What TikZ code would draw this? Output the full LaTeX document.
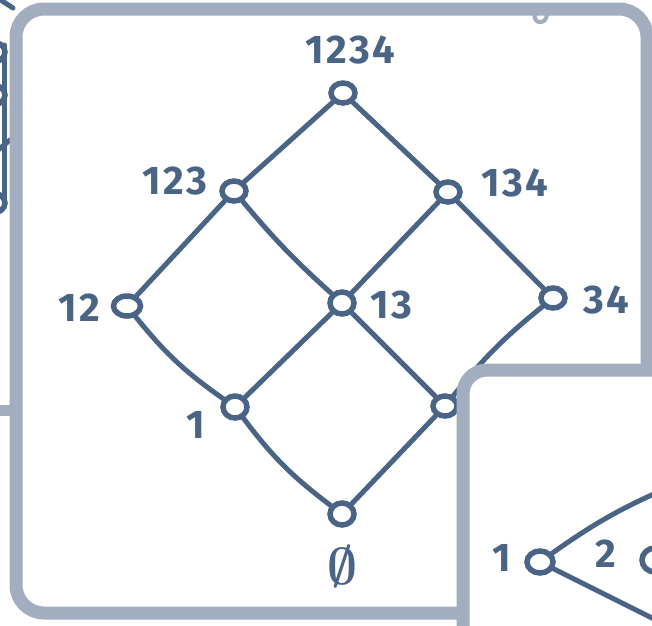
\documentclass[tikz,border=0pt]{standalone}
\usepackage{fix-cm}
\usepackage{amsmath}
\usepackage{fontspec}
\setmainfont{Fira Sans}[LetterSpace=6]
\usetikzlibrary{positioning,shapes.geometric}
\definecolor{ink}{RGB}{74,100,134}
\definecolor{panelgray}{RGB}{162,173,192}
\tikzset{vtx/.style={draw=ink,ellipse,line width=5.5pt,minimum width=24pt,minimum height=20pt,inner sep=0pt,fill=white},
  edge/.style={draw=ink,line width=5pt,line cap=round},
  lbl/.style={text=ink,font=\fontsize{40}{42}\selectfont\bfseries,inner sep=0pt},
  panel/.style={draw=panelgray,line width=13pt,fill=white}}

\begin{document}
\begin{tikzpicture}[x=1pt,y=-1pt]
\useasboundingbox (0,0) rectangle (652,625);
\clip (0,0) rectangle (652,625);
% neighbour on the left, cut off
\draw[edge] (-4,-3) -- (13,8);
\draw[edge] (4,45) -- (4,205);
\draw[edge] (-2,150) -- (10,140);
\draw[draw=panelgray,line width=11pt] (-4,410) -- (14,410);
\node[vtx] (w1) at (-7,52) {};
\node[vtx] (w2) at (-7,95) {};
\node[vtx] (w3) at (-7,203) {};
% main panel
\draw[panel,rounded corners=28pt] (16,9) rectangle (647,613);
\draw[panelgray,line width=4pt,line cap=round] (535,13) .. controls (532,25) and (547,25) .. (547,14);
% lattice
\node[vtx] (v1234) at (343,93) {};
\node[vtx] (v123) at (234,191) {};
\node[vtx] (v134) at (448,192) {};
\node[vtx,minimum width=27pt] (v12) at (127,306) {};
\node[vtx,minimum height=22pt] (v13) at (342,303) {};
\node[vtx] (v34) at (553,298) {};
\node[vtx,minimum height=22pt] (v1) at (235,407) {};
\node[vtx] (v3) at (445,406) {};
\node[vtx,minimum height=22pt] (v0) at (342,514) {};
\draw[edge] (v1234) -- (v123);
\draw[edge] (v1234) -- (v134);
\draw[edge] (v123) -- (v12);
\draw[edge] (v123) to[bend right=4] (v13);
\draw[edge] (v134) -- (v13);
\draw[edge] (v134) -- (v34);
\draw[edge] (v12) to[bend right=8] (v1);
\draw[edge] (v13) -- (v1);
\draw[edge] (v13) -- (v3);
\draw[edge] (v34) to[bend right=6] (v3);
\draw[edge] (v1) to[bend right=8] (v0);
\draw[edge] (v3) -- (v0);
\node[lbl] (t1234) at (350,50) {1234};
\node[lbl] (t123) at (175,181) {123};
\node[lbl] (t134) at (515,183) {134};
\node[lbl] (t12) at (79,308) {12};
\node[lbl] (t13) at (391,305) {13};
\node[lbl] (t34) at (606,300) {34};
\node[lbl] (t1) at (196,425) {1};
\node[lbl,font=\fontsize{52}{54}\selectfont] (t0) at (342,566) {$\boldsymbol{\emptyset}$};
% panel below on the right
\draw[panel,rounded corners=24pt] (463,370) rectangle (720,700);
\node[vtx,minimum width=26pt,minimum height=22pt] (u1) at (540,562) {};
\node[vtx,minimum width=26pt,minimum height=24pt] (u2) at (655,560) {};
\coordinate (uout) at (672,486);
\coordinate (udown) at (672,628);
\draw[edge] (u1) to[bend left=6] (uout);
\draw[edge] (u1) -- (udown);
\node[lbl] (s1) at (502,558) {1};
\node[lbl] (s2) at (606,554) {2};
\end{tikzpicture}
\end{document}
